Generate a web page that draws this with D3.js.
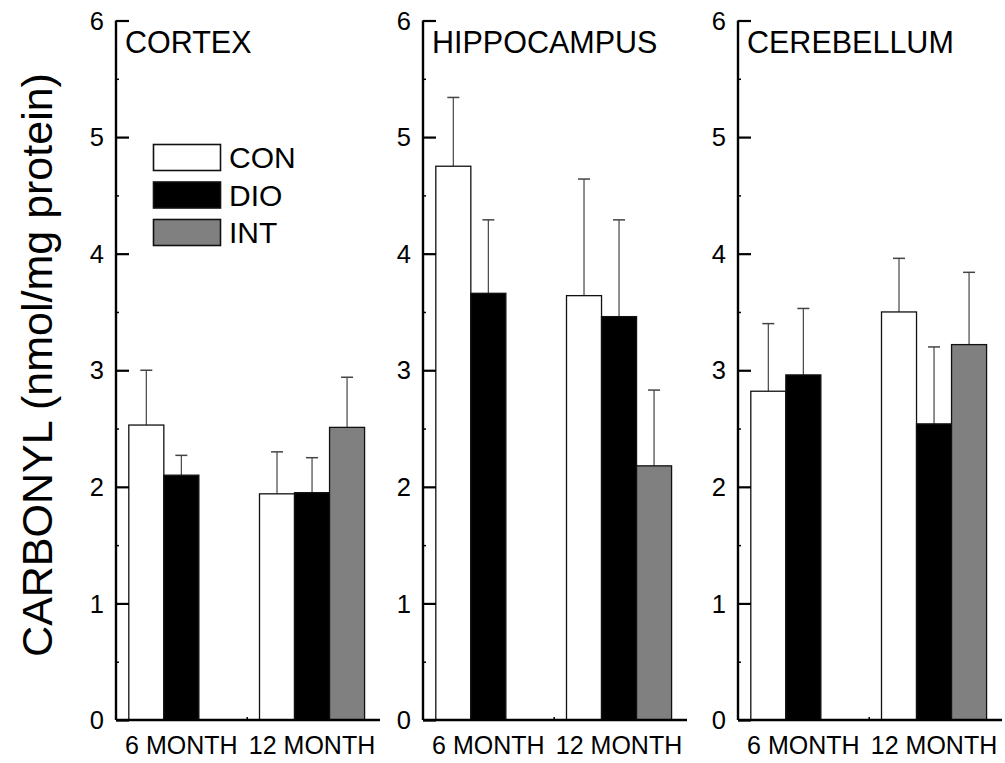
<!DOCTYPE html>
<html>
<head>
<meta charset="utf-8">
<script src="https://cdn.jsdelivr.net/npm/d3@7"></script>
<style>
  html, body { margin: 0; padding: 0; background: #fff; }
  svg { display: block; font-family: "Liberation Sans", Arial, sans-serif; }
</style>
</head>
<body>
<svg id="chart" width="1005" height="763"></svg>
<script>
// Protein carbonyl content by brain region, age and diet group
const regions = ["CORTEX", "HIPPOCAMPUS", "CEREBELLUM"];
const ages = ["6 MONTH", "12 MONTH"];
const groups = ["CON", "DIO", "INT"];
const groupFill = ["#ffffff", "#000000", "#808080"];
const yTicks = [0, 1, 2, 3, 4, 5, 6];

// rows: age (6, 12 month); columns: CON, DIO, INT (null = not measured)
const cortexMean = [[2.53, 2.10, null], [1.94, 1.95, 2.51]];
const cortexErr  = [[0.47, 0.17, null], [0.36, 0.30, 0.43]];
const hippoMean  = [[4.75, 3.66, null], [3.64, 3.46, 2.18]];
const hippoErr   = [[0.59, 0.63, null], [1.00, 0.83, 0.65]];
const cerebMean  = [[2.82, 2.96, null], [3.50, 2.54, 3.22]];
const cerebErr   = [[0.58, 0.57, null], [0.46, 0.66, 0.62]];

const means = [cortexMean, hippoMean, cerebMean];
const errs = [cortexErr, hippoErr, cerebErr];

const svg = d3.select("#chart");
const panelLeft = [116, 423, 738];
const panelW = 264;
const plotTop = 20.5, plotBottom = 720;
const barW = 0.268;

const y = d3.scaleLinear().domain([0, 6]).range([plotBottom, plotTop]);

// Y axis title
svg.append("text")
  .attr("transform", `translate(52,365) rotate(-90)`)
  .attr("text-anchor", "middle")
  .attr("font-size", 43)
  .attr("fill", "#000")
  .text("CARBONYL (nmol/mg protein)");

regions.forEach((region, p) => {
  const g = svg.append("g").attr("transform", `translate(${panelLeft[p]},0)`);
  const x = d3.scaleLinear().domain([0.5, 2.52]).range([0, panelW]);

  // bars and upper error bars
  ages.forEach((age, a) => {
    const center = a + 1;
    groups.forEach((grp, k) => {
      const v = means[p][a][k];
      if (v == null) return;
      const e = errs[p][a][k];
      const x0 = x(center + (k - 1.5) * barW);
      const x1 = x(center + (k - 0.5) * barW);
      const xm = (x0 + x1) / 2;
      g.append("line")
        .attr("x1", xm).attr("x2", xm)
        .attr("y1", y(v)).attr("y2", y(v + e))
        .attr("stroke", "#444").attr("stroke-width", 1.2);
      g.append("line")
        .attr("x1", xm - 6).attr("x2", xm + 6)
        .attr("y1", y(v + e)).attr("y2", y(v + e))
        .attr("stroke", "#444").attr("stroke-width", 1.5);
      g.append("rect")
        .attr("x", x0).attr("width", x1 - x0)
        .attr("y", y(v)).attr("height", y(0) - y(v))
        .attr("fill", groupFill[k])
        .attr("stroke", "#111").attr("stroke-width", 1.3);
    });
  });

  // Y axis: inward major ticks with minor half-unit ticks
  const yAxis = d3.axisRight(y).tickValues(yTicks).tickSize(13).tickFormat("");
  const ya = g.append("g").call(yAxis);
  ya.select(".domain").attr("stroke-width", 2.4).attr("d", `M0,${plotTop}V${plotBottom}`);
  ya.selectAll(".tick line").attr("stroke-width", 2.2);
  const yMinor = d3.axisRight(y).tickValues(d3.range(0.5, 6, 1)).tickSize(3).tickFormat("");
  const ym = g.append("g").call(yMinor);
  ym.select(".domain").remove();
  ym.selectAll(".tick line").attr("stroke-width", 1.5);

  // tick labels
  g.selectAll("text.ylab").data(yTicks).join("text")
    .attr("class", "ylab")
    .attr("x", -12).attr("y", d => y(d))
    .attr("dy", "0.36em")
    .attr("text-anchor", "end")
    .attr("font-size", 25.5)
    .text(d => d);

  // X axis with small upward ticks
  const xAxis = d3.axisTop(x).tickValues([1, 1.5, 2]).tickSize(3).tickFormat("");
  const xa = g.append("g").attr("transform", `translate(0,${plotBottom})`).call(xAxis);
  xa.select(".domain").attr("stroke-width", 2.4).attr("d", `M0,0H${panelW}`);
  xa.selectAll(".tick line").attr("stroke-width", 1.5);

  g.selectAll("text.xlab").data(ages).join("text")
    .attr("class", "xlab")
    .attr("x", (d, i) => x(i + 1)).attr("y", 754)
    .attr("text-anchor", "middle")
    .attr("font-size", 25)
    .text(d => d);

  // panel title
  g.append("text")
    .attr("x", 9).attr("y", 53)
    .attr("font-size", 30.5)
    .text(region);
});

// legend in the first panel
const leg = svg.append("g");
groups.forEach((grp, k) => {
  const yy = 144.5 + k * 37.5;
  leg.append("rect")
    .attr("x", 153.5).attr("y", yy).attr("width", 67).attr("height", 26)
    .attr("fill", groupFill[k]).attr("stroke", "#111").attr("stroke-width", 1.6);
  leg.append("text")
    .attr("x", 229).attr("y", yy + 23.5)
    .attr("font-size", 30)
    .text(grp);
});
</script>
</body>
</html>
